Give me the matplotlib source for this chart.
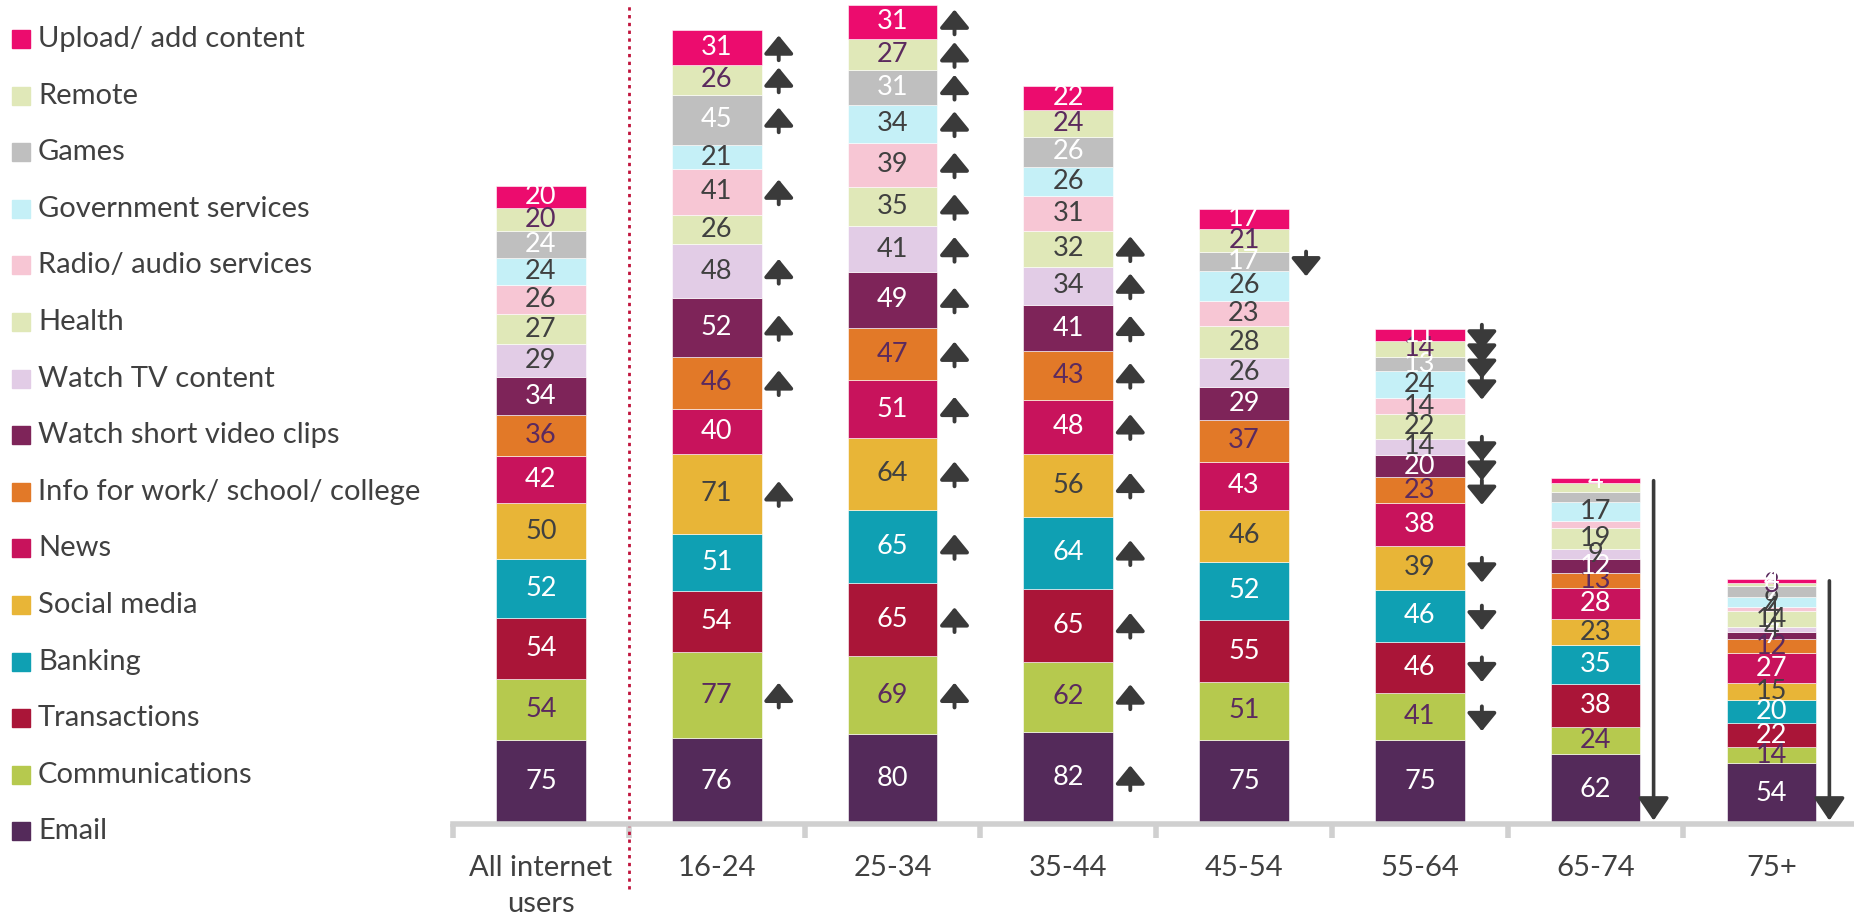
import matplotlib
matplotlib.use('Agg')
import matplotlib.pyplot as plt
from matplotlib.patches import Rectangle

plt.rcParams['font.family'] = ['Lato', 'DejaVu Sans']

# series, bottom of stack first
series = ['Email', 'Communications', 'Transactions', 'Banking', 'Social media', 'News',
          'Info for work/ school/ college', 'Watch short video clips', 'Watch TV content',
          'Health', 'Radio/ audio services', 'Government services', 'Games', 'Remote',
          'Upload/ add content']
colors = ['#542A5A', '#B6C94E', '#AA1538', '#0FA0B3', '#E8B537', '#C8135C',
          '#E27928', '#7E2459', '#E2CCE6', '#E0E8B8', '#F7C6D4', '#C5F0F7',
          '#BFBFBF', '#E0E8B8', '#EC0C6E']
label_colors = ['white', '#5B2A5E', 'white', 'white', '#404040', 'white',
                '#5B2A5E', 'white', '#404040', '#404040', '#404040', '#404040',
                'white', '#5B2A5E', 'white']

groups = ['All internet\nusers', '16-24', '25-34', '35-44', '45-54', '55-64', '65-74', '75+']

all_users = [75, 54, 54, 52, 50, 42, 36, 34, 29, 27, 26, 24, 24, 20, 20]
age_16_24 = [76, 77, 54, 51, 71, 40, 46, 52, 48, 26, 41, 21, 45, 26, 31]
age_25_34 = [80, 69, 65, 65, 64, 51, 47, 49, 41, 35, 39, 34, 31, 27, 31]
age_35_44 = [82, 62, 65, 64, 56, 48, 43, 41, 34, 32, 31, 26, 26, 24, 22]
age_45_54 = [75, 51, 55, 52, 46, 43, 37, 29, 26, 28, 23, 26, 17, 21, 17]
age_55_64 = [75, 41, 46, 46, 39, 38, 23, 20, 14, 22, 14, 24, 13, 14, 11]
age_65_74 = [62, 24, 38, 35, 23, 28, 13, 12, 9, 19, 6, 17, 9, 8, 4]
age_75_plus = [54, 14, 22, 20, 15, 27, 12, 7, 4, 14, 4, 9, 9, 3, 4]
values = [all_users, age_16_24, age_25_34, age_35_44, age_45_54, age_55_64, age_65_74, age_75_plus]

# labels not shown in the source for some thin segments
hidden = {6: {13, 12, 10}}

# significance vs all users: 'u' higher, 'd' lower
sig = [
    [''] * 15,
    ['', 'u', '', '', 'u', '', 'u', 'u', 'u', '', 'u', '', 'u', 'u', 'u'],
    [''] + ['u'] * 14,
    ['u'] * 10 + [''] * 5,
    [''] * 12 + ['d', '', ''],
    ['', 'd', 'd', 'd', 'd', '', 'd', 'd', 'd', '', '', 'd', 'd', 'd', 'd'],
    [''] * 15,
    [''] * 15,
]
whole_column_down = [6, 7]

W, H = 1854, 921
fig = plt.figure(figsize=(W / 100, H / 100), dpi=100)
ax = fig.add_axes([453 / W, 97 / H, 1 - 453 / W, 824 / H])

arrow_col = '#3A3A3A'
small_arrow = dict(arrowstyle='-|>,head_length=1.1,head_width=0.9',
                   color=arrow_col, lw=2.8, shrinkA=0, shrinkB=0)
bw = 0.51
for g, vals in enumerate(values):
    bottom = 0
    for s, v in enumerate(vals):
        ax.bar(g, v, bottom=bottom, width=bw, color=colors[s], edgecolor='white', linewidth=0.4)
        mid = bottom + v / 2
        if s not in hidden.get(g, set()):
            ax.text(g, mid, str(v), ha='center', va='center', fontsize=19.5, color=label_colors[s])
        ax_x = g + 0.353
        if sig[g][s] == 'u':
            ax.annotate('', xy=(ax_x, mid + 11), xytext=(ax_x, mid - 11), arrowprops=small_arrow)
        elif sig[g][s] == 'd':
            ax.annotate('', xy=(ax_x, mid - 13), xytext=(ax_x, mid + 9), arrowprops=small_arrow)
        bottom += v
    if g in whole_column_down:
        ax.annotate('', xy=(g + 0.33, 3), xytext=(g + 0.33, bottom - 2),
                    arrowprops=dict(arrowstyle='-|>,head_length=1.4,head_width=0.95',
                                    color=arrow_col, lw=2.6, shrinkA=0, shrinkB=0))

ax.axvline(0.5, ymin=-0.079, ymax=0.995, color='#C0143C', linestyle=(0, (1.2, 1.6)),
           linewidth=2, clip_on=False)

ax.set_xlim(-0.5, 7.47)
ax.set_ylim(0, 732)
for side in ['top', 'right', 'left']:
    ax.spines[side].set_visible(False)
ax.spines['bottom'].set_color('#D0D0D0')
ax.spines['bottom'].set_linewidth(4)
ax.set_yticks([])
ax.set_xticks(range(len(groups)))
ax.set_xticklabels(groups, fontsize=21, color='#404040', linespacing=1.5)
ax.tick_params(axis='x', which='major', length=0, pad=22)
ax.set_xticks([i - 0.5 for i in range(len(groups))], minor=True)
ax.tick_params(axis='x', which='minor', length=10, width=4, color='#D0D0D0')

# legend, top to bottom
for i, s in enumerate(reversed(range(len(series)))):
    yc = 39 + i * 56.6
    fig.patches.append(Rectangle((12 / W, 1 - (yc + 9) / H), 18 / W, 18 / H,
                                 transform=fig.transFigure, color=colors[s]))
    fig.text(38 / W, 1 - yc / H, series[s], fontsize=21, color='#404040',
             ha='left', va='center')

fig.savefig('out.png', dpi=100)
